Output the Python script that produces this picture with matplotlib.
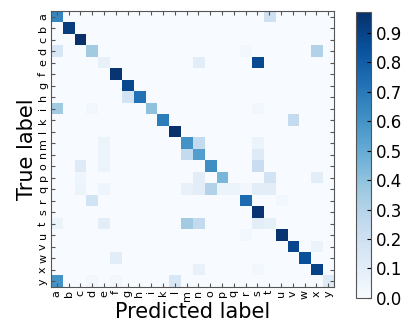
import numpy as np
import matplotlib
matplotlib.use("Agg")
import matplotlib.pyplot as plt

labels = ["a", "b", "c", "d", "e", "f", "g", "h", "i", "k", "l", "m",
          "n", "o", "p", "q", "r", "s", "t", "u", "v", "w", "x", "y"]

# (true, predicted, value) for non-zero cells
diag = [0.65, 0.92, 0.97, 0.35, 0.07, 0.95, 0.88, 0.72, 0.40, 0.68, 0.97, 0.60,
        0.55, 0.62, 0.45, 0.06, 0.75, 0.95, 0.08, 0.95, 0.88, 0.85, 0.90, 0.12]
off_diag = [
    ("a", "t", 0.20),
    ("d", "a", 0.15), ("d", "x", 0.30), ("d", "r", 0.03),
    ("e", "n", 0.10), ("e", "s", 0.87),
    ("h", "g", 0.18),
    ("i", "a", 0.35), ("i", "d", 0.03), ("i", "s", 0.03),
    ("k", "v", 0.25),
    ("m", "n", 0.25), ("m", "e", 0.05), ("m", "s", 0.05),
    ("n", "m", 0.25), ("n", "e", 0.05), ("n", "s", 0.12),
    ("o", "c", 0.12), ("o", "e", 0.05), ("o", "s", 0.22),
    ("p", "c", 0.04), ("p", "n", 0.10), ("p", "t", 0.18), ("p", "x", 0.10),
    ("q", "c", 0.06), ("q", "e", 0.04), ("q", "m", 0.07), ("q", "n", 0.10),
    ("q", "o", 0.30), ("q", "p", 0.05), ("q", "r", 0.03), ("q", "s", 0.10),
    ("q", "t", 0.10),
    ("r", "d", 0.18), ("r", "u", 0.03),
    ("t", "a", 0.06), ("t", "e", 0.10), ("t", "m", 0.35), ("t", "n", 0.25),
    ("t", "s", 0.10),
    ("u", "r", 0.03),
    ("v", "x", 0.05),
    ("w", "f", 0.10),
    ("x", "n", 0.07), ("x", "s", 0.03),
    ("y", "a", 0.60), ("y", "d", 0.03), ("y", "f", 0.03), ("y", "l", 0.15),
]

n = len(labels)
cm = np.zeros((n, n))
for i in range(n):
    cm[i, i] = diag[i]
for t, p, v in off_diag:
    cm[labels.index(t), labels.index(p)] = v

fig = plt.figure(figsize=(4.04, 3.27), dpi=100)
ax = fig.add_axes([0.126, 0.122, 0.701, 0.844])
im = ax.imshow(cm, cmap="Blues", vmin=0, vmax=0.97,
               interpolation="nearest", aspect="auto")
ax.set_xticks(range(n))
ax.set_yticks(range(n))
ax.set_xticklabels(labels, rotation=90, fontsize=8)
ax.set_yticklabels(labels, rotation=90, fontsize=8, va="center")
ax.tick_params(direction="in", top=True, right=True, length=3, pad=2,
               color="#555555")
for s in ax.spines.values():
    s.set_color("#555555")
ax.set_xlabel("Predicted label", fontsize=15, labelpad=1)
ax.set_ylabel("True label", fontsize=15, labelpad=1)

cax = fig.add_axes([0.881, 0.089, 0.037, 0.874])
cb = fig.colorbar(im, cax=cax, ticks=np.arange(0, 1.0, 0.1))
cb.ax.tick_params(labelsize=12, direction="in", length=3)
cb.outline.set_edgecolor("#555555")

fig.savefig("out.png", dpi=100)
